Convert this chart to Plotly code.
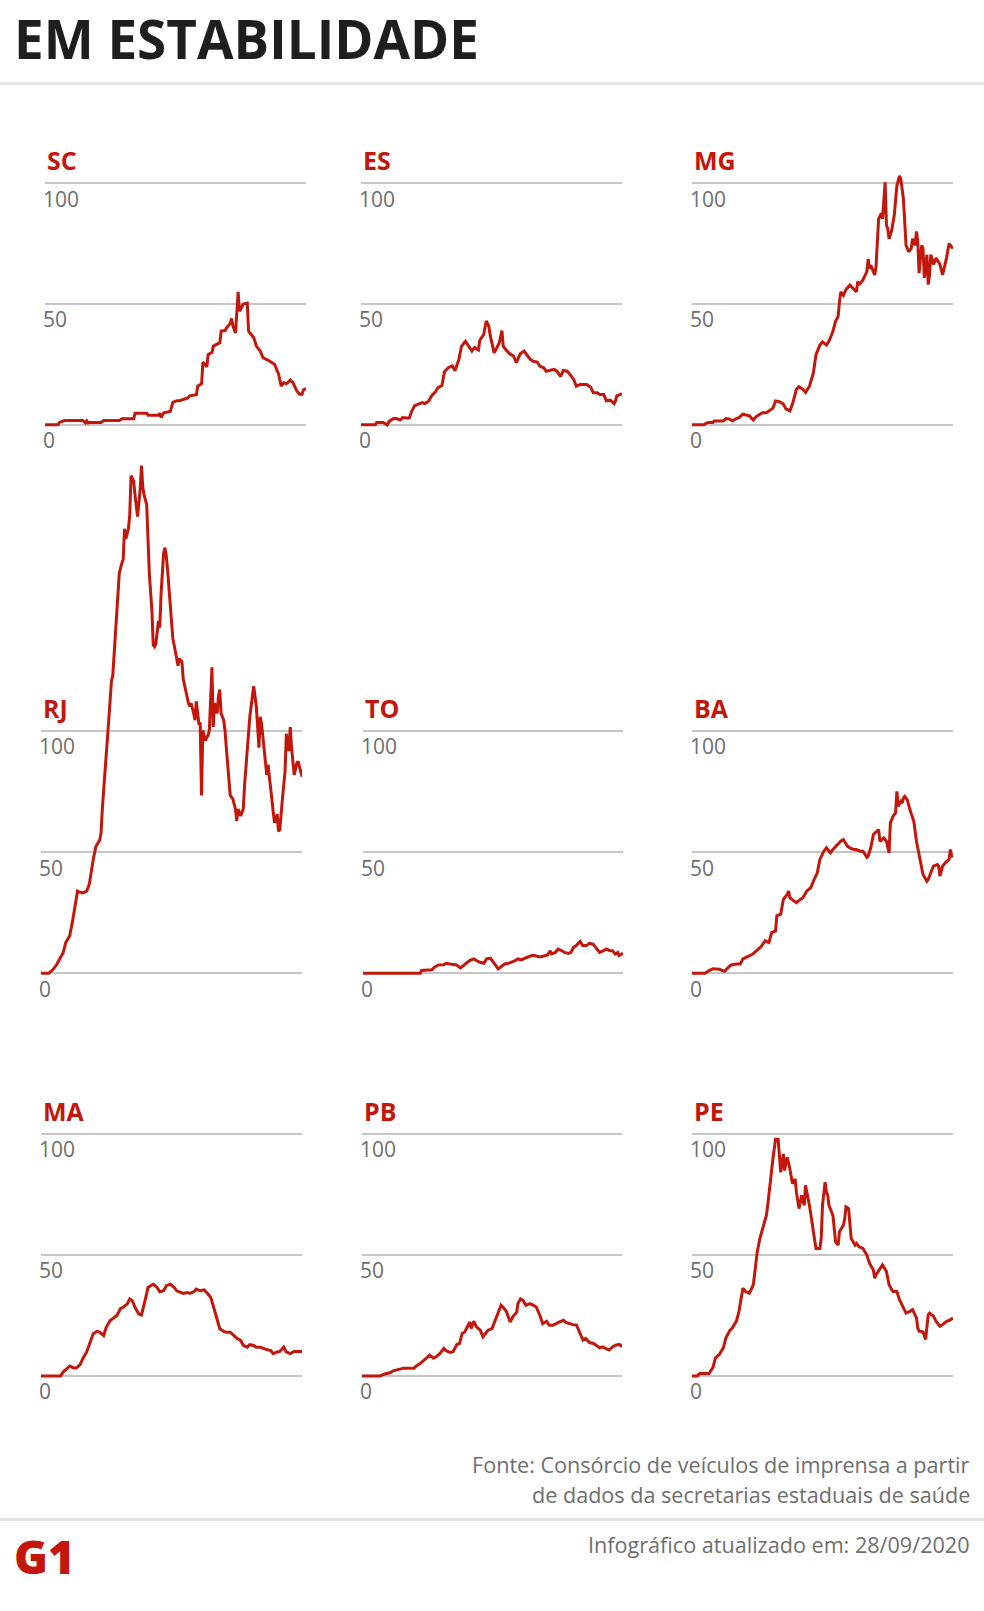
import plotly.graph_objects as go

W, H = 984, 1611
RED = "#c4170c"
GRAY_TXT = "#6e6e6e"
GRID = "#c6c6c6"

# ---- data: (day, value) pairs ----
SC = [(0,0),(10,0),(11,1),(14,1.5),(15,1.8),(29,1.8),(31,0.8),(32,1.6),(33,0.8),(34,1),(43,1),(45,1.8),(57,1.8),
      (59,2.5),(68,2.5),(69,4.8),(78,4.8),(79,4),(87,4),(88,4.8),(89,3),(91,5),(96,5.5),(98,9.3),(101,10),(103,10),
      (109,11),(111,12),(116,12.5),(117,16),(120,17),(121,26),(124,24),(125,29),(128,30),(129,32.6),(134,34),
      (135,38.8),(138,39),(139,40),(142,42),(143,44),(144,41),(146,38),(147,45),(148,55),(149,47),(152,50),
      (155,50.4),(156,38.8),(157,38),(160,36),(162,32.6),(165,30.5),(167,27.8),(170,27),(172,26.4),(176,25),
      (179,21),(181,16),(183,17.5),(185,17),(188,18.5),(190,17.5),(193,14),(195,12.7),(197,12.7),(198,14.5),(200,15)]

ES = [(0,0),(11,0),(12,1),(17,1),(20,0),(22,1.6),(25,2.6),(27,2.6),(30,2),(32,3),(35,2.8),(37,2.8),(39,5.8),
      (41,7.8),(44,8.6),(47,9.2),(49,8.8),(52,9.9),(54,12),(57,13.7),(59,15.4),(62,16.3),(64,22),(67,23.7),
      (70,24.4),(72,22.4),(75,27),(77,32.5),(80,34.6),(82,33),(85,30.5),(87,32),(90,31),(91,35),(94,37.3),
      (96,43),(98,40.7),(99,37),(102,29.8),(104,31.8),(106,34),(108,39),(109,32.5),(112,30.5),(114,29.4),
      (117,28.4),(119,25.7),(122,29.4),(125,30.5),(127,29),(130,27),(132,26.3),(135,26),(137,24.3),(140,23.6),
      (142,22.2),(145,22.5),(148,23),(150,22.2),(153,20),(155,22.5),(158,22.2),(160,21),(163,18.8),(165,16),
      (168,16.7),(171,16.7),(173,16.7),(176,15.6),(178,13.3),(181,13.3),(183,12.6),(186,12.6),(188,9.9),
      (191,10.2),(194,8.8),(195,9.9),(196,12),(200,12.9)]

MG = [(0,0),(9,0),(11,0.7),(13,1),(16,1),(17,1.6),(24,1.6),(26,2.6),(29,2.3),(31,1.6),(34,2.6),(36,3),(39,4.4),
      (41,4.1),(44,3.7),(47,2),(49,3.3),(52,4.4),(54,5),(57,5),(59,5.8),(62,6.9),(64,9.9),(67,9.6),(70,8.6),
      (72,6.6),(75,5.8),(77,8.6),(80,14.7),(82,15.8),(85,14.7),(87,13.4),(90,16),(93,21.5),(95,29),(98,33),
      (100,34.3),(103,33),(105,34.7),(108,38.7),(110,42.8),(112,44.9),(113,51),(114,55),(116,53.6),(118,56),
      (121,57.9),(123,56.8),(126,55),(127,59.3),(128,57.9),(131,60),(134,63.4),(135,68.6),(136,64.7),(137,66),
      (139,63.4),(140,62),(141,65.4),(143,85.2),(145,87.5),(146,85.2),(148,100.4),(149,82.6),(150,81.2),
      (151,77),(153,80.5),(154,84),(155,86.7),(157,99),(159,103),(160,101.8),(162,93.5),(163,84),(164,74.3),
      (166,71.6),(168,73),(169,77),(171,74.3),(172,80),(173,76),(174,62.8),(176,74.3),(177,73),(178,60.8),
      (180,70.4),(181,58),(182,62),(183,70.4),(185,66.4),(187,69),(190,66.4),(192,62),(195,69),(197,75),
      (199,73.6),(200,73)]

RJ = [(0,0),(6,0),(9,1.4),(12,3.5),(14,5.6),(17,8.5),(19,12.7),(22,15.5),(24,21),(27,29.7),(28,33.9),(29,33.6),
      (32,33.2),(35,33.9),(37,36.7),(40,46.9),(42,52.3),(45,55),(46,57.9),(47,67.8),(49,86.2),(50,90.4),
      (51,97.5),(53,111.6),(54,120.8),(55,122.9),(56,131.4),(58,146.9),(59,154),(60,165.3),(62,169.5),
      (63,170.9),(64,183.6),(65,179.4),(67,183.6),(68,189.3),(69,205.5),(71,203.4),(72,197.7),(73,193.5),
      (74,188.6),(76,199.9),(77,209.7),(78,200.7),(79,197.7),(81,193.5),(82,180.8),(83,165.3),(85,149.7),
      (86,135.6),(87,134.9),(88,136),(90,145.5),(91,142.7),(92,156.8),(94,173.7),(95,175.8),(96,172.3),
      (97,166.7),(99,154),(100,145.5),(101,138.4),(103,132.8),(104,130),(105,127),(106,130),(108,128.5),
      (109,121.5),(110,118.6),(112,114.4),(113,111.6),(114,110.2),(115,111.6),(117,107.3),(118,104.5),
      (119,112.3),(121,103.1),(122,103.1),(123,73.4),(124,100.3),(126,96),(127,97.5),(128,98.2),(129,100.3),
      (131,126.4),(132,101.7),(133,111.6),(135,107.3),(136,114.4),(137,117.2),(138,107.3),(140,104.5),
      (141,100.3),(142,93.2),(144,81.9),(145,73.4),(147,72),(149,67.8),(150,62.9),(151,67.8),(153,65),
      (155,67.8),(156,77.7),(158,93.2),(159,100.3),(160,105.9),(162,114.4),(163,118.6),(164,114.4),
      (165,110.2),(167,93.2),(168,105.9),(169,103.1),(171,93.2),(172,88.9),(173,81.9),(174,86.2),(176,74.9),
      (177,70.6),(178,66.4),(179,62.1),(181,65.7),(182,58.6),(183,59.3),(185,72),(186,79.1),(187,83.3),
      (188,98.9),(190,91.8),(191,101.7),(192,93.2),(194,81.9),(196,86.8),(197,87.5),(199,83.3),(200,81.2)]

TO = [(0,0),(44,0),(45,1.1),(53,1.4),(55,2.5),(58,3.4),(62,3.5),(64,4.1),(67,3.8),(70,3.5),(72,3.4),(75,2.2),
      (77,3.1),(80,4.5),(82,5.2),(85,5.9),(87,5.2),(90,4.5),(93,4.1),(95,5.9),(98,6.2),(100,4.5),(103,2.5),
      (104,1.8),(107,3.1),(109,3.8),(112,4.1),(114,4.5),(117,5.2),(119,5.9),(122,5.5),(125,6.3),(127,6.8),
      (130,7.3),(132,7.3),(135,6.8),(137,6.8),(140,7.3),(142,7.5),(144,9.3),(145,8),(148,8.6),(150,10),
      (153,9.3),(155,8.6),(158,8.2),(160,8.6),(162,10.7),(164,11.4),(167,13.1),(169,11.4),(172,11.4),
      (174,12.3),(177,12),(180,10),(182,8.6),(185,9.3),(187,10),(190,9.3),(192,9.3),(194,7.9),(196,8.6),
      (197,7.3),(200,8.2)]

BA = [(0,0),(10,0),(13,1.1),(16,1.8),(21,1.6),(25,0.8),(28,2.5),(30,3.4),(34,3.8),(37,3.8),(39,5.9),(43,6.8),
      (46,7.7),(48,8.6),(51,10),(53,11),(56,13.4),(59,12.7),(61,16.8),(64,17.5),(65,23.7),(68,24.4),(70,30.5),
      (73,32.6),(74,34),(75,31.2),(78,29.9),(80,29.2),(83,30.5),(85,31.2),(88,34),(91,35.3),(93,38),(96,41.5),
      (98,47),(101,50.4),(103,51.8),(106,49.7),(108,51.1),(111,53),(114,54.5),(116,55.2),(119,52.5),(121,51.8),
      (124,51.1),(126,51.1),(129,50.4),(131,50.4),(134,47.9),(135,48.4),(137,51.8),(139,57.3),(142,58.6),
      (143,59.3),(144,54.5),(147,55.9),(149,54.5),(151,49.7),(152,62),(154,64.8),(156,66.2),(157,75.1),
      (158,68.9),(160,71),(161,70.3),(162,72.3),(163,73),(165,71.6),(167,67.5),(170,62.7),(172,54.5),
      (175,46.3),(177,40.8),(180,38),(181,38.7),(183,41.5),(185,44.2),(188,44.9),(189,44.2),(190,40.1),
      (192,44.2),(194,45.6),(197,47),(198,51.1),(199,48.4),(200,47.9)]

MA = [(0,0),(15,0),(17,1.6),(20,3.3),(22,4.1),(25,3.3),(27,3.3),(30,4.7),(32,7.1),(35,9.9),(38,14),(40,17.4),
      (43,18.4),(45,18.1),(48,16.7),(50,20.1),(53,22.9),(55,23.8),(58,24.9),(61,27.9),(63,28.4),(66,29.7),
      (68,31.8),(70,31.1),(72,28.4),(75,25.6),(77,25.2),(80,31.8),(82,36.6),(84,37.3),(86,37.9),(89,36.6),
      (91,34.8),(94,35.2),(96,37.3),(99,37.9),(102,36.6),(104,35.2),(107,34.5),(109,34.1),(112,34.5),
      (114,34.1),(117,34.8),(119,35.9),(122,35.2),(125,35.6),(127,34.5),(130,32.5),(132,29),(135,23.6),
      (137,19.5),(140,18.4),(142,18.1),(145,18.1),(148,16.7),(150,15.6),(153,14.7),(155,12.6),(158,11.9),
      (160,12.9),(163,12.6),(165,11.9),(168,11.9),(171,11.2),(173,10.9),(176,10.5),(178,9.2),(181,9.9),
      (183,10.1),(186,11.9),(188,9.9),(191,9.2),(194,10.1),(196,10.1),(200,10.1)]

PB = [(0,0),(14,0),(17,0.7),(22,1.4),(24,2.1),(28,2.5),(32,3.2),(40,3.2),(42,4.2),(45,5.2),(47,6.2),(50,7.3),
      (52,8.6),(55,7.3),(57,7.9),(60,9.3),(63,11.4),(65,10.3),(68,9.7),(70,10),(73,13),(75,13.4),(77,17.5),
      (79,18.2),(82,21.6),(83,22.3),(84,19.6),(86,22.6),(88,20.3),(91,18.9),(93,16.2),(95,17.5),(97,18.9),
      (100,19.6),(102,22.3),(105,25.8),(107,29.2),(109,28.1),(111,26.7),(114,22.3),(116,24.4),(119,26.4),
      (120,29.9),(122,31.9),(124,31.2),(126,29.2),(129,29.9),(132,29.2),(134,28.5),(137,24.8),(139,21.6),
      (142,22.6),(144,21),(147,21),(149,21.6),(152,22.3),(155,23),(157,22),(160,21.6),(162,21.2),(165,21),
      (167,18.2),(170,14.8),(172,15.5),(175,13.8),(178,13.4),(180,12.7),(183,11.6),(185,12),(188,11.1),
      (190,10.7),(193,12.1),(195,12.7),(198,13),(200,12.1)]

PE = [(0,0),(4,0),(6,1),(13,1),(16,3.4),(18,7.5),(21,8.9),(24,11.6),(26,15.8),(29,18.8),(31,19.9),(34,22.6),
      (36,26.7),(39,36.3),(41,34.9),(44,34.2),(47,37.7),(48,41.8),(50,51.4),(52,56.8),(54,61),(57,66.4),
      (58,70.5),(59,76),(61,84.2),(62,89.7),(64,97.9),(66,97.9),(67,91),(68,84.2),(70,91.8),(71,84.9),
      (72,88.4),(73,90.4),(75,85.6),(77,79.5),(79,81.5),(80,76),(82,69.2),(84,74.7),(86,70.5),(87,78.8),
      (90,70.5),(93,59.6),(95,52.7),(98,52.7),(99,56.8),(100,70.5),(102,80.1),(103,76),(104,74.7),(105,70.5),
      (108,66.4),(110,55.5),(112,54.1),(113,59.6),(116,62.3),(117,65),(118,69.9),(120,69.2),(122,56.8),
      (125,54.1),(126,54.8),(128,53.4),(131,52.7),(134,50),(136,46.6),(139,43.8),(140,40.4),(141,41.8),
      (144,44.5),(146,45.9),(149,43.2),(151,37.7),(154,34.9),(157,34.9),(159,31.5),(162,28.1),(164,26),
      (167,26.7),(169,27.4),(172,24),(173,19.9),(174,18.5),(177,18.2),(179,15.1),(181,25.3),(182,26),
      (185,24.7),(187,22.6),(190,20.5),(192,21.2),(195,22.6),(197,22.9),(200,24)]

STATES = ["SC", "ES", "MG", "RJ", "TO", "BA", "MA", "PB", "PE"]
SERIES = [SC, ES, MG, RJ, TO, BA, MA, PB, PE]
TICK_VALS = [0, 50, 100]
TICK_TEXT = ["0", "50", "100"]
DAY_RANGE = [0, 200]

# ---- layout geometry (pixels) ----
COLS = [(45, 306), (361, 622), (692, 953),
        (41, 302), (363, 623), (692, 953),
        (41, 302), (362, 622), (692, 953)]
ROWS = [(427.5, 184.3)] * 3 + [(979.3, 735.7)] * 3 + [(1384.5, 1141.2)] * 3
YMAX = [110, 110, 110, 218, 110, 110, 110, 110, 110]
YMIN = -8

fig = go.Figure()
layout = {}
annotations = []

for i, (name, series) in enumerate(zip(STATES, SERIES)):
    n = "" if i == 0 else str(i + 1)
    days = [p[0] for p in series]
    vals = [p[1] for p in series]
    fig.add_trace(go.Scatter(x=days, y=vals, mode="lines", xaxis="x" + n, yaxis="y" + n,
                             line=dict(color=RED, width=3), hoverinfo="skip", showlegend=False))
    xl, xr = COLS[i]
    y0, y100 = ROWS[i]
    k = (y0 - y100) / 100.0
    bot_px = y0 - YMIN * k
    top_px = y0 - YMAX[i] * k
    layout["xaxis" + n] = dict(domain=[xl / W, xr / W], range=DAY_RANGE, visible=False,
                               anchor="y" + n, fixedrange=True)
    layout["yaxis" + n] = dict(domain=[1 - bot_px / H, 1 - top_px / H], range=[YMIN, YMAX[i]],
                               anchor="x" + n, tickvals=TICK_VALS, ticktext=TICK_TEXT,
                               showgrid=True, gridcolor=GRID, gridwidth=2, zeroline=False,
                               showline=False, ticks="", ticklabelposition="inside",
                               ticklabelshift=16, ticklabelstandoff=-5, ticklabeloverflow="allow",
                               tickfont=dict(family="Open Sans", size=21, color=GRAY_TXT),
                               fixedrange=True)
    annotations.append(dict(xref=("x" + n + " domain"), yref="y" + n, x=0, y=100,
                            xanchor="left", yanchor="bottom", xshift=0, yshift=4,
                            text="<b>%s</b>" % name, showarrow=False,
                            font=dict(family="Open Sans", size=25, color=RED)))

annotations.append(dict(xref="paper", yref="paper", x=12 / W, y=1, xanchor="left", yanchor="top",
                        text="<b>EM ESTABILIDADE</b>", showarrow=False,
                        font=dict(family="Open Sans", size=53, color="#1e1e1e")))
annotations.append(dict(xref="paper", yref="paper", x=972 / W, y=1 - 1474 / H, xanchor="right", yanchor="middle",
                        text="Fonte: Consórcio de veículos de imprensa a partir", showarrow=False,
                        font=dict(family="Open Sans", size=21.6, color=GRAY_TXT)))
annotations.append(dict(xref="paper", yref="paper", x=972 / W, y=1 - 1504 / H, xanchor="right", yanchor="middle",
                        text="de dados da secretarias estaduais de saúde", showarrow=False,
                        font=dict(family="Open Sans", size=21.6, color=GRAY_TXT)))
annotations.append(dict(xref="paper", yref="paper", x=972 / W, y=1 - 1554 / H, xanchor="right", yanchor="middle",
                        text="Infográfico atualizado em: 28/09/2020", showarrow=False,
                        font=dict(family="Open Sans", size=21.6, color=GRAY_TXT)))
annotations.append(dict(xref="paper", yref="paper", x=12 / W, y=1 - 1566 / H, xanchor="left", yanchor="middle",
                        text="G1", showarrow=False,
                        font=dict(family="Open Sans", size=46, color=RED, weight=800)))

shapes = [
    dict(type="line", xref="paper", yref="paper", x0=0, x1=1, y0=1 - 84 / H, y1=1 - 84 / H,
         line=dict(color="#e4e4e4", width=3)),
    dict(type="line", xref="paper", yref="paper", x0=0, x1=1, y0=1 - 1529 / H, y1=1 - 1529 / H,
         line=dict(color="#e4e4e4", width=3)),
]

fig.update_layout(width=W, height=H, margin=dict(l=0, r=0, t=0, b=0), paper_bgcolor="white",
                  plot_bgcolor="rgba(0,0,0,0)", annotations=annotations, shapes=shapes, **layout)

fig.write_html("out.html", config={"displayModeBar": False})
